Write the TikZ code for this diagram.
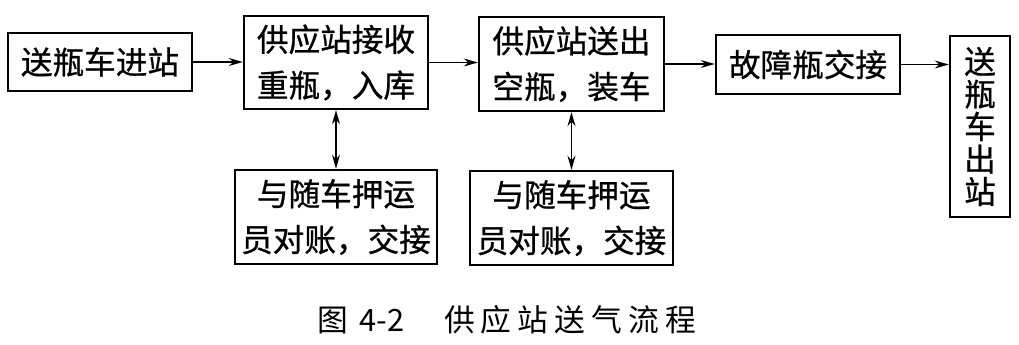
\documentclass[tikz,border=0pt]{standalone}
\usepackage{fontspec}
\usetikzlibrary{arrows.meta}
\newfontfamily\cjk[FakeBold=0.8]{Noto Sans CJK SC}
\newfontfamily\cjkplain{Noto Sans CJK SC}
\newfontfamily\cjkcap[LetterSpace=20]{Noto Sans CJK SC}

\begin{document}
\begin{tikzpicture}[>={Stealth[length=8pt, width=4.5pt]}, line width=1.1pt, x=0.02cm, y=-0.02cm,
        box/.style={draw, line width=1.3pt, align=center, inner sep=0pt,
                    font=\cjk\fontsize{18}{26}\selectfont}]

    \useasboundingbox (0,0) rectangle (1019,345);

    % --- górny ciąg bloków ---
    \node[box, minimum width=3.68cm, minimum height=1.16cm] (jin)   at (100,62)   {送瓶车进站};
    \node[box, minimum width=3.68cm, minimum height=1.86cm] (recv)  at (336,62.5) {供应站接收\\重瓶，入库};
    \node[box, minimum width=3.70cm, minimum height=1.88cm] (send)  at (571.5,64) {供应站送出\\空瓶，装车};
    \node[box, minimum width=3.68cm, minimum height=1.18cm] (fault) at (808,64.5)  {故障瓶交接};
    \node[box, minimum width=1.20cm, minimum height=3.62cm,
          font=\cjk\fontsize{18}{18.5}\selectfont]            (chu)   at (980,126.5) {送\\瓶\\车\\出\\站};

    % --- dolne bloki (rozliczenie z konwojentem) ---
    \node[box, minimum width=4.04cm, minimum height=1.88cm] (chk1) at (336,217)   {与随车押运\\员对账，交接};
    \node[box, minimum width=4.06cm, minimum height=1.88cm] (chk2) at (571.5,218) {与随车押运\\员对账，交接};

    % --- połączenia ---
    \draw[->] (jin.east)   -- (jin.east -| recv.west);
    \draw[->] (recv.east)  -- (recv.east -| send.west);
    \draw[->] (send.east)  -- (send.east -| fault.west);
    \draw[->] (fault.east) -- (fault.east -| chu.west);
    \draw[<->] (recv) -- (chk1);
    \draw[<->] (send) -- (chk2);

    % --- podpis ---
    \node[font=\cjkplain\fontsize{17.5}{20}\selectfont] (cap) at (507,320)
        {图\hspace{0.35em}4-2\hspace{1.3em}{\cjkcap 供应站送气流程}};

\end{tikzpicture}
\end{document}
